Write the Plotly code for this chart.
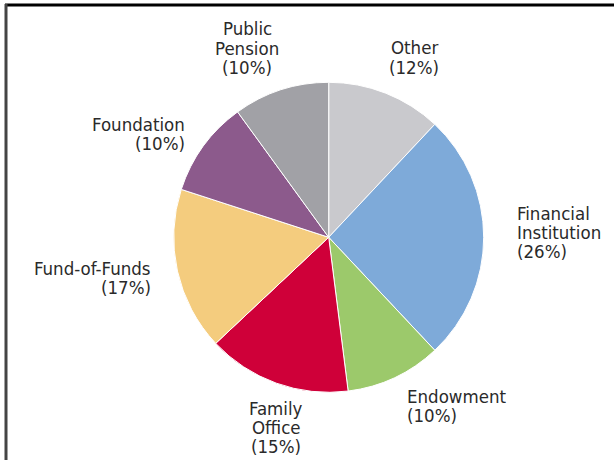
import plotly.graph_objects as go

# Share of investors by type, clockwise from 12 o'clock
categories = ["Other", "Financial Institution", "Endowment", "Family Office",
              "Fund-of-Funds", "Foundation", "Public Pension"]
label_lines = [["Other"], ["Financial", "Institution"], ["Endowment"], ["Family", "Office"],
               ["Fund-of-Funds"], ["Foundation"], ["Public", "Pension"]]
values = [12, 26, 10, 15, 17, 10, 10]
colors = ["#c9c9cd", "#7eaad9", "#9cc96b", "#cf0039", "#f4cc7e", "#8c5a8c", "#a1a1a6"]

W, H = 614, 460
cx, cy, r = 328.7, 237.3, 155

fig = go.Figure(go.Pie(
    labels=categories,
    values=values,
    sort=False,
    direction="clockwise",
    rotation=0,
    marker=dict(colors=colors, line=dict(color="white", width=1)),
    textinfo="none",
    hoverinfo="label+percent",
    showlegend=False,
    domain=dict(x=[(cx - r) / W, (cx + r) / W], y=[1 - (cy + r) / H, 1 - (cy - r) / H]),
))

# label placement: (x px, y px of first line centre, anchor)
label_pos = [
    (414, 48, "center"),
    (516, 213, "left"),
    (406, 396, "left"),
    (276, 408, "center"),
    (152, 268, "right"),
    (186, 124, "right"),
    (247, 29, "center"),
]
line_gap = 19.3
font = dict(family="DejaVu Sans Condensed, Liberation Sans Narrow, Arial Narrow, sans-serif",
            size=18.5, color="#2a2a2a")

annotations = []
for lines, v, (px, py, anchor) in zip(label_lines, values, label_pos):
    for i, t in enumerate(lines + [f"({v}%)"]):
        annotations.append(dict(
            x=px / W, y=1 - (py + i * line_gap) / H, xref="paper", yref="paper",
            text=t, showarrow=False, xanchor=anchor, yanchor="middle",
            font=font, borderpad=0,
        ))

shapes = [
    dict(type="line", xref="paper", yref="paper", x0=5 / W, x1=1, y0=1 - 5 / H, y1=1 - 5 / H,
         line=dict(color="#000000", width=3)),
    dict(type="line", xref="paper", yref="paper", x0=6 / W, x1=6 / W, y0=0, y1=1 - 4 / H,
         line=dict(color="#444444", width=3)),
]

fig.update_layout(
    width=W, height=H,
    margin=dict(l=0, r=0, t=0, b=0),
    paper_bgcolor="white", plot_bgcolor="white",
    annotations=annotations, shapes=shapes,
)

fig.write_html("out.html")
